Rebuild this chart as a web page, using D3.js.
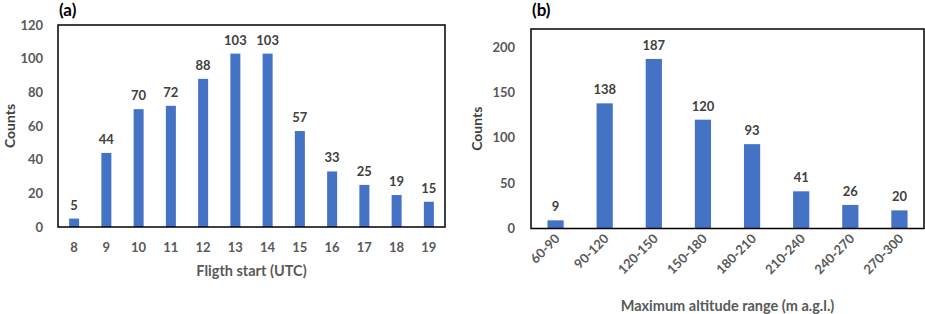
<!DOCTYPE html>
<html>
<head>
<meta charset="utf-8">
<script src="https://cdn.jsdelivr.net/npm/d3@7"></script>
<style>
  body { margin: 0; background: #fff; }
  text { font-family: Lato, "Open Sans", sans-serif; font-weight: bold; }
</style>
</head>
<body>
<svg id="chart" width="925" height="314"></svg>
<script>
const hours = ['8','9','10','11','12','13','14','15','16','17','18','19'];
const hourCounts = [5, 44, 70, 72, 88, 103, 103, 57, 33, 25, 19, 15];
const hourTicks = [0, 20, 40, 60, 80, 100, 120];

const ranges = ['60-90','90-120','120-150','150-180','180-210','210-240','240-270','270-300'];
const rangeCounts = [9, 138, 187, 120, 93, 41, 26, 20];
const rangeTicks = [0, 50, 100, 150, 200];

const svg = d3.select('#chart');
const barColor = '#4472C4',
  grey = '#595959',
  dark = '#404040';

function drawPanel(opts) {
  const {cats, vals, ticks, yMax, box, pad, tag, xTitle, xTitleY, rotate, yTitleX} = opts;

  const x = d3.scaleBand()
    .domain(cats)
    .range([box.left, box.right])
    .paddingInner(pad)
    .paddingOuter(pad / 2);

  const y = d3.scaleLinear()
    .domain([0, yMax])
    .range([box.bottom, box.top]);

  const g = svg.append('g');

  g.selectAll('.bar')
    .data(vals)
    .enter().append('rect')
    .attr('x', (d, i) => x(cats[i]))
    .attr('y', d => y(d))
    .attr('width', x.bandwidth())
    .attr('height', d => y(0) - y(d))
    .attr('fill', barColor);

  g.selectAll('.val')
    .data(vals)
    .enter().append('text')
    .attr('x', (d, i) => x(cats[i]) + x.bandwidth() / 2)
    .attr('y', d => y(d) - 9)
    .attr('text-anchor', 'middle')
    .attr('font-size', 13)
    .attr('fill', dark)
    .text(d => d);

  g.append('rect')
    .attr('x', box.left)
    .attr('y', box.top)
    .attr('width', box.right - box.left)
    .attr('height', box.bottom - box.top)
    .attr('fill', 'none')
    .attr('stroke', '#000')
    .attr('stroke-width', 1.5);

  // y tick labels
  g.selectAll('.ytick')
    .data(ticks)
    .enter().append('text')
    .attr('x', box.left - opts.yTickGap)
    .attr('y', d => y(d))
    .attr('dy', '0.35em')
    .attr('text-anchor', 'end')
    .attr('font-size', 13)
    .attr('fill', grey)
    .text(d => d);

  // x tick labels
  const xl = g.selectAll('.xtick')
    .data(cats)
    .enter().append('text')
    .attr('font-size', 13)
    .attr('fill', grey)
    .text(d => d);

  if (rotate) {
    xl.attr('text-anchor', 'end')
      .attr('transform', d => `translate(${x(d) + x.bandwidth() / 2 + 5},${box.bottom + 11}) rotate(-45)`);
  } else {
    xl.attr('text-anchor', 'middle')
      .attr('x', d => x(d) + x.bandwidth() / 2)
      .attr('y', box.bottom + 25);
  }

  g.append('text')
    .attr('x', (box.left + box.right) / 2)
    .attr('y', xTitleY)
    .attr('text-anchor', 'middle')
    .attr('font-size', 14.5)
    .attr('fill', grey)
    .text(xTitle);

  g.append('text')
    .attr('transform', `translate(${yTitleX},${(box.top + box.bottom) / 2}) rotate(-90)`)
    .attr('text-anchor', 'middle')
    .attr('font-size', 14)
    .attr('fill', dark)
    .text('Counts');

  g.append('text')
    .attr('x', box.left + 1)
    .attr('y', 16)
    .attr('font-size', 17)
    .attr('fill', '#000')
    .text(tag);
}

drawPanel({
  cats: hours, vals: hourCounts, ticks: hourTicks, yMax: 120,
  box: {left: 58, right: 445, top: 25, bottom: 227},
  pad: 0.69, tag: '(a)', xTitle: 'Fligth start (UTC)', xTitleY: 276,
  rotate: false, yTitleX: 15, yTickGap: 15
});

drawPanel({
  cats: ranges, vals: rangeCounts, ticks: rangeTicks, yMax: 220,
  box: {left: 531, right: 924, top: 29, bottom: 228.5},
  pad: 0.67, tag: '(b)', xTitle: 'Maximum altitude range (m a.g.l.)', xTitleY: 311,
  rotate: true, yTitleX: 482, yTickGap: 16
});
</script>
</body>
</html>
